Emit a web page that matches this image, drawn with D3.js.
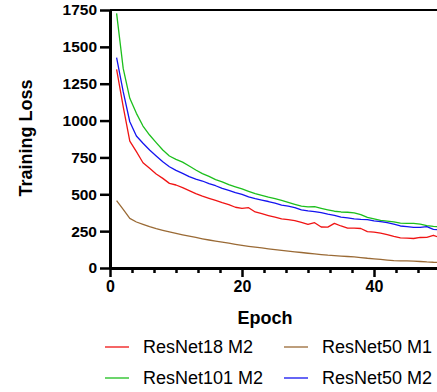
<!DOCTYPE html>
<html lang="en">
<head>
<meta charset="utf-8">
<style>
    body { margin: 0; background: #fff; }
    svg { display: block; font-family: "Liberation Sans", Arial, sans-serif; }
    .axis path, .axis line { stroke: #000; }
    .axis text { font-weight: bold; fill: #000; }
    .curve { fill: none; stroke-width: 1.3; stroke-linejoin: round; }
</style>
<script src="https://d3js.org/d3.v7.min.js"></script>
</head>
<body>
<svg width="437" height="392"></svg>
<script>
// epochs 1..50
var epochs = d3.range(1, 51);

var resnet18M2 = [1348, 1094, 861, 789, 714, 676, 638, 608, 574, 563,
    545, 525, 505, 488, 473, 458, 443, 430, 412, 405,
    409, 380, 368, 356, 345, 333, 328, 322, 310, 296,
    307, 278, 277, 303, 285, 270, 271, 268, 247, 244,
    236, 226, 214, 204, 202, 200, 207, 208, 222, 205];

var resnet101M2 = [1727, 1354, 1151, 1049, 963, 902, 850, 800, 760, 737,
    718, 692, 665, 640, 622, 600, 584, 565, 550, 536,
    520, 505, 493, 480, 470, 458, 445, 432, 420, 415,
    416, 405, 395, 385, 380, 378, 374, 362, 343, 333,
    323, 318, 313, 305, 303, 303, 298, 288, 282, 280];

var resnet50M2 = [1427, 1196, 992, 895, 846, 800, 760, 720, 687, 662,
    642, 620, 603, 590, 573, 558, 540, 527, 512, 500,
    482, 470, 460, 451, 440, 427, 420, 410, 395, 387,
    383, 375, 365, 357, 345, 340, 333, 330, 328, 320,
    314, 308, 298, 285, 280, 275, 276, 280, 262, 258];

var resnet50M1 = [457, 397, 337, 312, 296, 280, 267, 256, 245, 235,
    225, 216, 207, 198, 190, 183, 176, 168, 160, 153,
    147, 141, 136, 130, 125, 120, 115, 110, 105, 100,
    96, 91, 87, 84, 81, 78, 75, 71, 66, 62,
    58, 54, 50, 49, 48, 46, 44, 41, 39, 38];

var xTicks = [0, 20, 40];
var yTicks = [0, 250, 500, 750, 1000, 1250, 1500, 1750];

var series = [
    { name: "ResNet18 M2", values: resnet18M2, color: "#f01414" },
    { name: "ResNet50 M1", values: resnet50M1, color: "#9a6a35" },
    { name: "ResNet101 M2", values: resnet101M2, color: "#1cbf1c" },
    { name: "ResNet50 M2", values: resnet50M2, color: "#1414f0" }
];

var svg = d3.select("svg"),
    marginLeft = 110, marginTop = 10,
    width = 330, height = 258;

var x = d3.scaleLinear().domain([0, 50]).range([0, width]),
    y = d3.scaleLinear().domain([0, 1750]).range([height, 0]);

var g = svg.append("g").attr("transform", "translate(" + marginLeft + "," + marginTop + ")");

// top frame line
g.append("line")
    .attr("x1", 0).attr("x2", width)
    .attr("y1", 0).attr("y2", 0)
    .attr("stroke", "#000").attr("stroke-width", 2);

// minor x ticks (6 per 20 epochs)
var minor = d3.range(1, 16).map(function(i) { return i * 20 / 6; })
    .filter(function(d, i) { return (i + 1) % 6 != 0; });
g.append("g")
    .attr("class", "axis")
    .attr("transform", "translate(0," + height + ")")
    .call(d3.axisBottom(x).tickValues(minor).tickSize(5).tickFormat(""))
    .call(function(a) { a.select(".domain").remove(); a.selectAll("line").attr("stroke-width", 2.5); });

var lineGen = d3.line()
    .x(function(d, i) { return x(epochs[i]); })
    .y(function(d) { return y(d); });

g.selectAll(".curve")
    .data(series)
    .enter().append("path")
    .attr("class", "curve")
    .attr("stroke", function(d) { return d.color; })
    .attr("d", function(d) { return lineGen(d.values); });

var xAxis = g.append("g")
    .attr("class", "axis")
    .attr("transform", "translate(0," + height + ")")
    .call(d3.axisBottom(x).tickValues(xTicks).tickSize(9).tickSizeOuter(0).tickPadding(4));
xAxis.select(".domain").attr("stroke-width", 3);
xAxis.selectAll("line").attr("stroke-width", 2.5);
xAxis.selectAll("text").style("font-size", "16px");

var yAxis = g.append("g")
    .attr("class", "axis")
    .call(d3.axisLeft(y).tickValues(yTicks).tickFormat(d3.format("d"))
        .tickSize(10).tickSizeOuter(0).tickPadding(3));
yAxis.select(".domain").attr("stroke-width", 3);
yAxis.selectAll("line").attr("stroke-width", 2.5);
yAxis.selectAll("text").style("font-size", "15.5px");

// axis titles
svg.append("text")
    .attr("x", marginLeft + width / 2 - 10).attr("y", 324)
    .attr("text-anchor", "middle")
    .style("font-size", "18px").style("font-weight", "bold")
    .text("Epoch");

svg.append("text")
    .attr("transform", "translate(32,138) rotate(-90)")
    .attr("text-anchor", "middle")
    .style("font-size", "18px").style("font-weight", "bold")
    .text("Training Loss");

// legend, 2 columns
var legend = svg.append("g");
var item = legend.selectAll("g")
    .data(series)
    .enter().append("g")
    .attr("transform", function(d, i) {
        return "translate(" + (i % 2 ? 284 : 105) + "," + (i < 2 ? 347 : 378) + ")";
    });
item.append("line")
    .attr("x1", 0).attr("x2", 24)
    .attr("stroke", function(d) { return d.color; })
    .attr("stroke-width", 1.3);
item.append("text")
    .attr("x", 38).attr("dy", "0.36em")
    .style("font-size", "18px")
    .text(function(d) { return d.name; });
</script>
</body>
</html>
